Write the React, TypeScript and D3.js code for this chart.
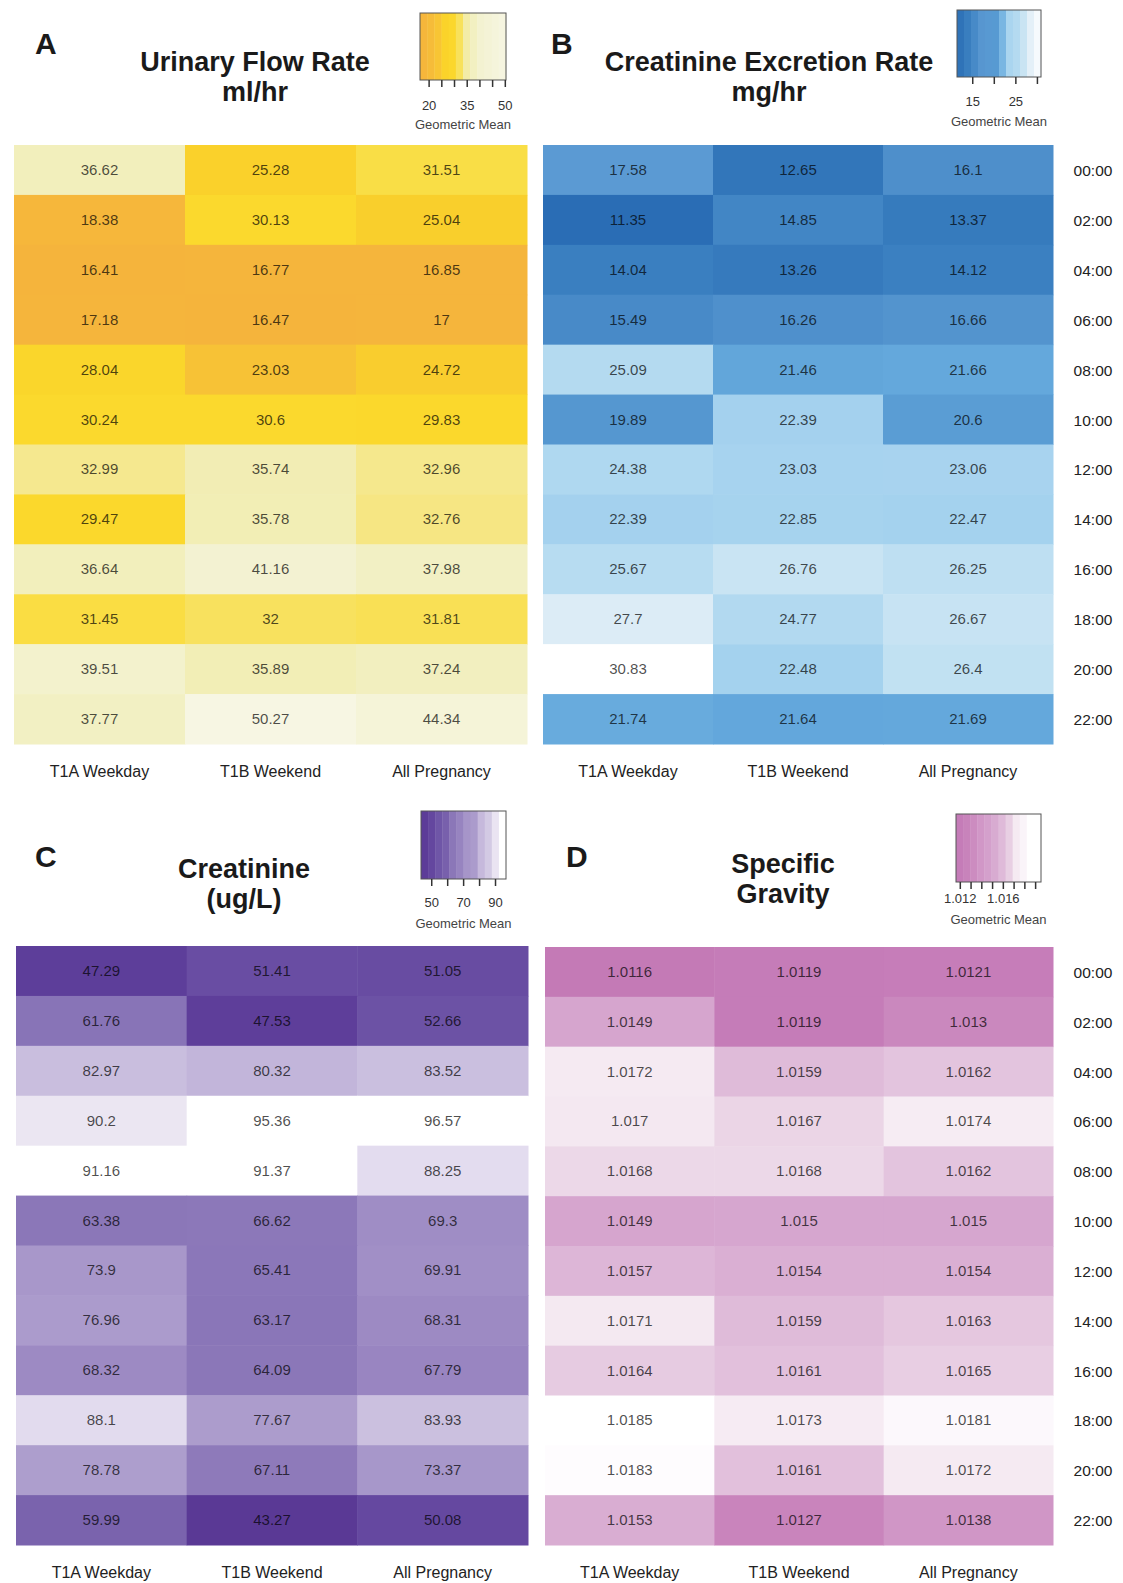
import React from 'react';
import * as d3 from 'd3';

const columns = ['T1A Weekday', 'T1B Weekend', 'All Pregnancy'];
const times = ['00:00', '02:00', '04:00', '06:00', '08:00', '10:00', '12:00', '14:00', '16:00', '18:00', '20:00', '22:00'];

const flowRate = [
  [36.62, 25.28, 31.51],
  [18.38, 30.13, 25.04],
  [16.41, 16.77, 16.85],
  [17.18, 16.47, 17],
  [28.04, 23.03, 24.72],
  [30.24, 30.6, 29.83],
  [32.99, 35.74, 32.96],
  [29.47, 35.78, 32.76],
  [36.64, 41.16, 37.98],
  [31.45, 32, 31.81],
  [39.51, 35.89, 37.24],
  [37.77, 50.27, 44.34],
];

const excretion = [
  [17.58, 12.65, 16.1],
  [11.35, 14.85, 13.37],
  [14.04, 13.26, 14.12],
  [15.49, 16.26, 16.66],
  [25.09, 21.46, 21.66],
  [19.89, 22.39, 20.6],
  [24.38, 23.03, 23.06],
  [22.39, 22.85, 22.47],
  [25.67, 26.76, 26.25],
  [27.7, 24.77, 26.67],
  [30.83, 22.48, 26.4],
  [21.74, 21.64, 21.69],
];

const creatinine = [
  [47.29, 51.41, 51.05],
  [61.76, 47.53, 52.66],
  [82.97, 80.32, 83.52],
  [90.2, 95.36, 96.57],
  [91.16, 91.37, 88.25],
  [63.38, 66.62, 69.3],
  [73.9, 65.41, 69.91],
  [76.96, 63.17, 68.31],
  [68.32, 64.09, 67.79],
  [88.1, 77.67, 83.93],
  [78.78, 67.11, 73.37],
  [59.99, 43.27, 50.08],
];

const gravity = [
  [1.0116, 1.0119, 1.0121],
  [1.0149, 1.0119, 1.013],
  [1.0172, 1.0159, 1.0162],
  [1.017, 1.0167, 1.0174],
  [1.0168, 1.0168, 1.0162],
  [1.0149, 1.015, 1.015],
  [1.0157, 1.0154, 1.0154],
  [1.0171, 1.0159, 1.0163],
  [1.0164, 1.0161, 1.0165],
  [1.0185, 1.0173, 1.0181],
  [1.0183, 1.0161, 1.0172],
  [1.0153, 1.0127, 1.0138],
];

// colour anchors
const flowStops = [16.4, 19, 23, 25.5, 31, 33, 36, 40, 50.3];
const flowColors = ['#f5b43c', '#f6b83b', '#f7c236', '#fad22a', '#fbda2d', '#f5e88f', '#f2eeb8', '#f3f2d0', '#f7f6e3'];
const excStops = [11.35, 14, 17.5, 20, 21.7, 22.3, 26, 27.7, 30.83];
const excColors = ['#2a6db5', '#3a7fc0', '#5b9ad3', '#5597d0', '#64a8dc', '#a3d1ee', '#b9ddf1', '#dcecf6', '#ffffff'];
const creStops = [43, 48, 52, 60, 62, 67, 68, 72, 79, 80.5, 84, 88, 90.5, 91.1, 97];
const creColors = ['#5a3995', '#5e3f9b', '#6b50a4', '#7a63ad', '#8a76b8', '#8c78b9', '#9c89c3', '#a695c9', '#ad9ecd', '#c5b8dc', '#cbc0df', '#e2dbee', '#ece7f3', '#ffffff', '#ffffff'];
const sgStops = [1.0116, 1.0122, 1.013, 1.0138, 1.015, 1.016, 1.0168, 1.017, 1.0174, 1.0182, 1.0185, 1.02];
const sgColors = ['#c47ab6', '#c67eb9', '#ca88be', '#d096c6', '#d6a6cf', '#e0bdda', '#ecd8e8', '#f4e8f1', '#f6ecf3', '#fdfafd', '#ffffff', '#ffffff'];

// legend ticks
const flowLegendDomain = [16.41, 50.27];
const flowTicks = [20, 25, 30, 35, 40, 45, 50];
const flowTickLabels = [20, 35, 50];
const excLegendDomain = [11.35, 30.83];
const excTicks = [15, 20, 25, 30];
const excTickLabels = [15, 25];
const creLegendDomain = [43.27, 96.57];
const creTicks = [50, 60, 70, 80, 90];
const creTickLabels = [50, 70, 90];
const sgLegendDomain = [1.0116, 1.0195];
const sgTicks = [1.012, 1.013, 1.014, 1.015, 1.016, 1.017, 1.018, 1.019];
const sgTickLabels = [1.012, 1.016];

const FONT = '"Liberation Sans", Arial, Helvetica, sans-serif';

function makeScale(stops: number[], colors: string[]) {
  return d3.scaleLinear<string>().domain(stops).range(colors).interpolate(d3.interpolateRgb).clamp(true);
}

function Heatmap({ data, color, x0, x1, y0, y1, showRows }: any) {
  const x = d3.scaleBand<string>().domain(columns).range([x0, x1]);
  const y = d3.scaleBand<string>().domain(times).range([y0, y1]);
  return (
    <g>
      {data.map((row: number[], i: number) =>
        row.map((v: number, j: number) => (
          <rect key={`r${i}-${j}`} x={x(columns[j])} y={y(times[i])} width={x.bandwidth() + 0.5} height={y.bandwidth() + 0.5} fill={color(v)} />
        ))
      )}
      {data.map((row: number[], i: number) =>
        row.map((v: number, j: number) => (
          <text key={`t${i}-${j}`} x={(x(columns[j]) as number) + x.bandwidth() / 2} y={(y(times[i]) as number) + y.bandwidth() / 2 + 5}
            textAnchor="middle" fontSize={15} fontFamily={FONT} fill="#000" fillOpacity={0.7}>{String(v)}</text>
        ))
      )}
      {columns.map((c) => (
        <text key={c} x={(x(c) as number) + x.bandwidth() / 2} y={y1 + 33} textAnchor="middle" fontSize={16} fontFamily={FONT} fill="#222">{c}</text>
      ))}
      {showRows && times.map((t) => (
        <text key={t} x={1093} y={(y(t) as number) + y.bandwidth() / 2 + 6} textAnchor="middle" fontSize={15.5} fontFamily={FONT} fill="#222">{t}</text>
      ))}
    </g>
  );
}

function Legend({ domain, color, x0, x1, y0, y1, ticks, labels, labelY, gmY, fmt }: any) {
  const s = d3.scaleLinear().domain(domain).range([x0, x1]);
  const n = 12;
  const w = (x1 - x0) / n;
  const stripes = d3.range(n).map((k) => ({ x: x0 + k * w, v: s.invert(x0 + (k + 0.5) * w) }));
  return (
    <g>
      {stripes.map((st, k) => (
        <rect key={k} x={st.x} y={y0} width={w + 0.4} height={y1 - y0} fill={color(st.v)} />
      ))}
      <rect x={x0} y={y0} width={x1 - x0} height={y1 - y0} fill="none" stroke="#555" strokeWidth={1} />
      {ticks.map((t: number) => (
        <line key={t} x1={s(t)} x2={s(t)} y1={y1} y2={y1 + 7} stroke="#333" strokeWidth={1.5} />
      ))}
      {labels.map((t: number) => (
        <text key={t} x={s(t)} y={labelY} textAnchor="middle" fontSize={13} fontFamily={FONT} fill="#333">{fmt ? fmt(t) : String(t)}</text>
      ))}
      <text x={(x0 + x1) / 2} y={gmY} textAnchor="middle" fontSize={13} fontFamily={FONT} fill="#444">Geometric Mean</text>
    </g>
  );
}

function Title({ x, y, lines }: any) {
  return (
    <g>
      {lines.map((l: string, i: number) => (
        <text key={i} x={x} y={y + i * 30} textAnchor="middle" fontSize={27} fontWeight="bold" fontFamily={FONT} fill="#1a1a1a">{l}</text>
      ))}
    </g>
  );
}

function Letter({ x, y, t }: any) {
  return <text x={x} y={y} fontSize={30} fontWeight="bold" fontFamily={FONT} fill="#1a1a1a">{t}</text>;
}

export default function App() {
  const cFlow = makeScale(flowStops, flowColors);
  const cExc = makeScale(excStops, excColors);
  const cCre = makeScale(creStops, creColors);
  const cSg = makeScale(sgStops, sgColors);
  return (
    <div style={{ position: 'absolute', left: 0, top: 0 }}>
      <svg width={1123} height={1583} style={{ display: 'block', background: '#fff' }}>
        <rect x={0} y={0} width={1123} height={1583} fill="#fff" />
        <Letter x={35} y={54} t="A" />
        <Title x={255} y={71} lines={['Urinary Flow Rate', 'ml/hr']} />
        <Legend domain={flowLegendDomain} color={cFlow} x0={420} x1={506} y0={13} y1={80} ticks={flowTicks} labels={flowTickLabels} labelY={110} gmY={129} />
        <Heatmap data={flowRate} color={cFlow} x0={14} x1={527} y0={145} y1={744} showRows={false} />

        <Letter x={551} y={54} t="B" />
        <Title x={769} y={71} lines={['Creatinine Excretion Rate', 'mg/hr']} />
        <Legend domain={excLegendDomain} color={cExc} x0={957} x1={1041} y0={10} y1={77} ticks={excTicks} labels={excTickLabels} labelY={106} gmY={126} />
        <Heatmap data={excretion} color={cExc} x0={543} x1={1053} y0={145} y1={744} showRows={true} />

        <Letter x={35} y={867} t="C" />
        <Title x={244} y={878} lines={['Creatinine', '(ug/L)']} />
        <Legend domain={creLegendDomain} color={cCre} x0={421} x1={506} y0={811} y1={879} ticks={creTicks} labels={creTickLabels} labelY={907} gmY={928} />
        <Heatmap data={creatinine} color={cCre} x0={16} x1={528} y0={946} y1={1545} showRows={false} />

        <Letter x={566} y={867} t="D" />
        <Title x={783} y={873} lines={['Specific', 'Gravity']} />
        <Legend domain={sgLegendDomain} color={cSg} x0={956} x1={1041} y0={814} y1={882} ticks={sgTicks} labels={sgTickLabels} labelY={903} gmY={924} fmt={(t: number) => t.toFixed(3)} />
        <Heatmap data={gravity} color={cSg} x0={545} x1={1053} y0={947} y1={1545} showRows={true} />
      </svg>
    </div>
  );
}
